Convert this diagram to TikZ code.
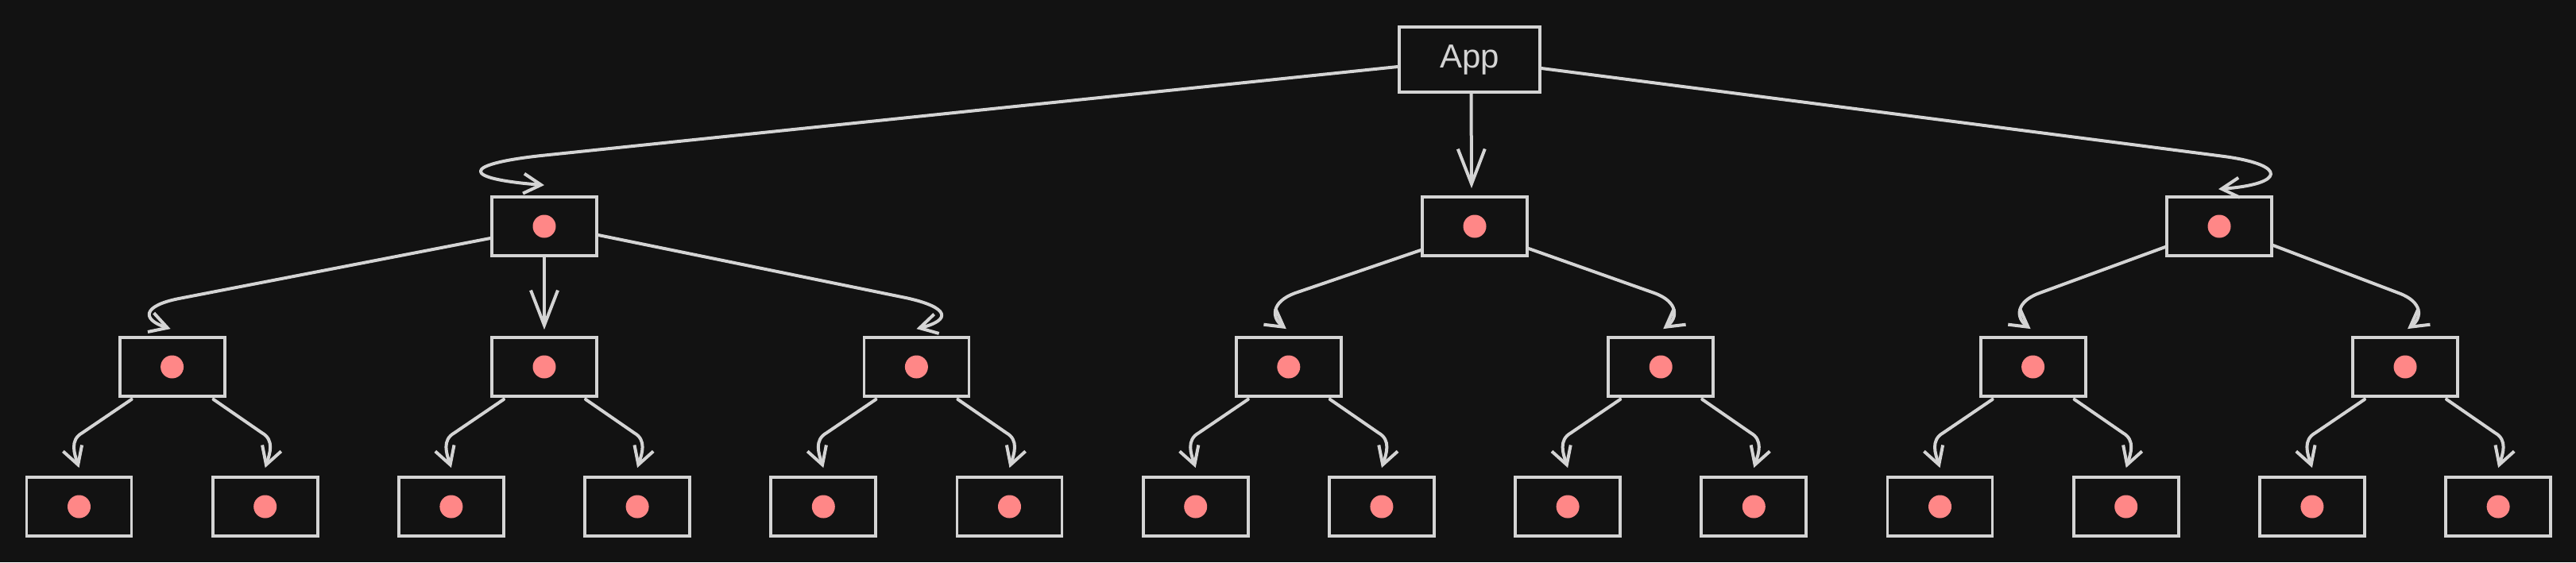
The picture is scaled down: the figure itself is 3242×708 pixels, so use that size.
\documentclass[tikz,border=0pt]{standalone}
\usepackage{fontspec}
\setmainfont{Liberation Sans}
\usetikzlibrary{arrows.meta,calc}
\definecolor{bgc}{HTML}{121212}
\definecolor{ink}{HTML}{D4D4D4}
\definecolor{dotc}{HTML}{FF8787}
\newcommand{\leafL}[2]{\draw[conn] ($(#1.south)+(-51,2)$) -- ($(#2.north)+(4,-54)$) .. controls ($(#2.north)+(-12,-45)$) and ($(#2.north)+(-6,-28)$) .. ($(#2.north)+(0,-10)$);}
\newcommand{\leafR}[2]{\draw[conn] ($(#1.south)+(52,2)$) -- ($(#2.north)+(-4,-54)$) .. controls ($(#2.north)+(12,-45)$) and ($(#2.north)+(6,-28)$) .. ($(#2.north)+(0,-10)$);}
\begin{document}
\begin{tikzpicture}[x=0.5pt,y=-0.5pt,
  box/.style={draw=ink, line width=1.9pt, fill=bgc, minimum width=66pt, minimum height=37pt, inner sep=0pt},
  dotbox/.style={box, path picture={\fill[dotc] (path picture bounding box.center) circle[radius=7.25pt];}},
  appbox/.style={box, minimum width=88.5pt, minimum height=41pt, text=ink, font=\fontsize{21}{24}\selectfont},
  conn/.style={draw=ink, line width=2pt, line cap=round, line join=round, -{Straight Barb[length=11pt,width=12.5pt]}},
  bigconn/.style={conn, -{Straight Barb[length=22pt,width=17pt]}},
]
\useasboundingbox (0,0) rectangle (3242,708);
\fill[bgc] (0,0) rectangle (3242,708);

% nodes
\node[appbox] (app) at (1849.5,75) {App};
\node[dotbox] (l1a) at (685,285) {};
\node[dotbox] (l1b) at (1856,285) {};
\node[dotbox] (l1c) at (2793,285) {};

\node[dotbox] (l2a) at (216.6,462) {};
\node[dotbox] (l2b) at (685,462) {};
\node[dotbox] (l2c) at (1153.4,462) {};
\node[dotbox] (l2d) at (1621.8,462) {};
\node[dotbox] (l2e) at (2090.2,462) {};
\node[dotbox] (l2f) at (2558.6,462) {};
\node[dotbox] (l2g) at (3027,462) {};

\node[dotbox] (lf1) at (99.5,638) {};
\node[dotbox] (lf2) at (333.7,638) {};
\node[dotbox] (lf3) at (567.9,638) {};
\node[dotbox] (lf4) at (802.1,638) {};
\node[dotbox] (lf5) at (1036.3,638) {};
\node[dotbox] (lf6) at (1270.5,638) {};
\node[dotbox] (lf7) at (1504.7,638) {};
\node[dotbox] (lf8) at (1738.9,638) {};
\node[dotbox] (lf9) at (1973.1,638) {};
\node[dotbox] (lf10) at (2207.3,638) {};
\node[dotbox] (lf11) at (2441.5,638) {};
\node[dotbox] (lf12) at (2675.7,638) {};
\node[dotbox] (lf13) at (2909.9,638) {};
\node[dotbox] (lf14) at (3144.1,638) {};

% App -> level 1
\draw[conn] ($(app.west)+(0,9)$) -- ($(l1a.north)+(-5,-50)$) .. controls ($(l1a.north)+(-105,-39)$) and ($(l1a.north)+(-105,-21)$) .. ($(l1a.north)+(0,-13)$);
\draw[bigconn] ($(app.south)+(2,0)$) -- ($(l1b.north)+(-4,-9)$);
\draw[conn] ($(app.east)+(0,11)$) -- ($(l1c.north)+(7,-49)$) .. controls ($(l1c.north)+(87,-38)$) and ($(l1c.north)+(82,-14)$) .. ($(l1c.north)+(-1,-8)$);

% level 1 -> level 2
\draw[conn] ($(l1a.west)+(0,15)$) -- ($(l2a.north)+(8,-47)$) .. controls ($(l2a.north)+(-37,-38)$) and ($(l2a.north)+(-39,-21)$) .. ($(l2a.north)+(-2,-9)$);
\draw[bigconn] (l1a.south) -- ($(l2b.north)+(0,-8)$);
\draw[conn] ($(l1a.east)+(0,11)$) -- ($(l2c.north)+(-13,-48)$) .. controls ($(l2c.north)+(42,-36)$) and ($(l2c.north)+(44,-20)$) .. ($(l2c.north)+(0,-9)$);

\draw[conn] ($(l1b.west)+(0,30)$) -- ($(l2d.north)+(8,-54)$) .. controls ($(l2d.north)+(-22,-43)$) and ($(l2d.north)+(-22,-23)$) .. ($(l2d.north)+(-3,-9)$);
\draw[conn] ($(l1b.east)+(0,28)$) -- ($(l2e.north)+(-8,-54)$) .. controls ($(l2e.north)+(22,-43)$) and ($(l2e.north)+(22,-23)$) .. ($(l2e.north)+(3,-9)$);

\draw[conn] ($(l1c.west)+(0,26)$) -- ($(l2f.north)+(8,-54)$) .. controls ($(l2f.north)+(-22,-43)$) and ($(l2f.north)+(-22,-23)$) .. ($(l2f.north)+(-3,-9)$);
\draw[conn] ($(l1c.east)+(0,24)$) -- ($(l2g.north)+(-8,-54)$) .. controls ($(l2g.north)+(22,-43)$) and ($(l2g.north)+(22,-23)$) .. ($(l2g.north)+(3,-9)$);

% level 2 -> leaves
\leafL{l2a}{lf1}  \leafR{l2a}{lf2}
\leafL{l2b}{lf3}  \leafR{l2b}{lf4}
\leafL{l2c}{lf5}  \leafR{l2c}{lf6}
\leafL{l2d}{lf7}  \leafR{l2d}{lf8}
\leafL{l2e}{lf9}  \leafR{l2e}{lf10}
\leafL{l2f}{lf11} \leafR{l2f}{lf12}
\leafL{l2g}{lf13} \leafR{l2g}{lf14}
\end{tikzpicture}
\end{document}
